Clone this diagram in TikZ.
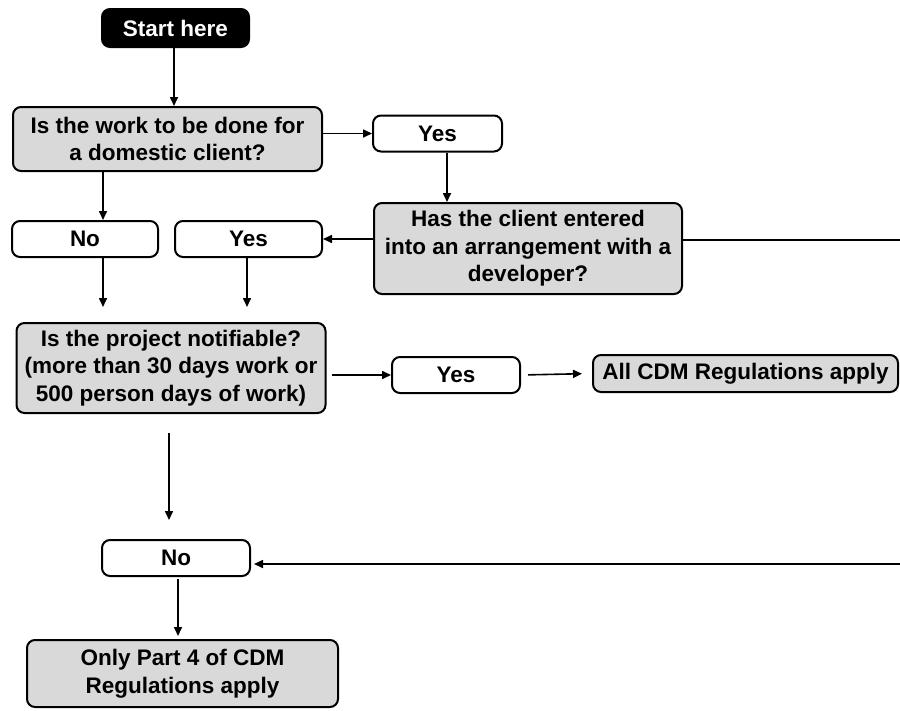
\documentclass[tikz,border=0pt]{standalone}
\usepackage{fontspec}
\setmainfont{Liberation Sans}
\usetikzlibrary{arrows.meta}
\definecolor{boxgrey}{HTML}{D9D9D9}

\begin{document}
\begin{tikzpicture}[x=1pt, y=-1pt,
    font=\fontsize{22.5}{27.5}\selectfont\bfseries,
    box/.style={draw, line width=2pt, rounded corners=8pt, align=center, inner sep=0pt},
    qbox/.style={box, fill=boxgrey},
    abox/.style={box, fill=white, minimum height=36pt},
    link/.style={line width=1.6pt, -{Triangle[length=9pt,width=8pt]}}]
\useasboundingbox (0,0) rectangle (900,710);

\node[box, fill=black, text=white, minimum width=147pt, minimum height=38pt] (start) at (175.5,28) {Start here};
\node[qbox, minimum width=309pt, minimum height=64pt] (domestic) at (167.5,139) {Is the work to be done for\\a domestic client?};
\node[abox, minimum width=129pt] (yes1) at (437.5,133.5) {Yes};
\node[qbox, minimum width=308pt, minimum height=91pt] (has) at (528,248.5) {Has the client entered\\into an arrangement with a\\developer?};
\node[abox, minimum width=146pt] (no1) at (85,239) {No};
\node[abox, minimum width=147pt] (yes2) at (248.5,239) {Yes};
\node[qbox, minimum width=309pt, minimum height=90pt] (notif) at (171,368) {Is the project notifiable?\\(more than 30 days work or\\500 person days of work)};
\node[abox, minimum width=128pt] (yes3) at (456,375) {Yes};
\node[qbox, minimum width=305pt, minimum height=37pt] (allcdm) at (745.5,373.5) {All CDM Regulations apply};
\node[abox, minimum width=148pt] (no2) at (176,558) {No};
\node[qbox, minimum width=311pt, minimum height=67pt] (part4) at (182.5,673.5) {Only Part 4 of CDM\\Regulations apply};

% loop back from the developer question
\coordinate (rtop) at (935,240);
\coordinate (rbot) at (935,564);

\draw[link] (start.south -| 174,0) -- (domestic.north -| 174,0);
\draw[link] (domestic.east |- yes1.west) -- (yes1.west);
\draw[link] ([xshift=9.5pt]yes1.south) -- ([xshift=9.5pt]yes1.south |- has.north);
\draw[link] (has.west |- yes2.east) -- (yes2.east);
\draw[link] ([xshift=18pt]no1.north |- domestic.south) -- ([xshift=18pt]no1.north);
\draw[link, shorten >=15pt] ([xshift=18pt]no1.south) -- ([xshift=18pt]no1.south |- notif.north);
\draw[link, shorten >=15pt] ([xshift=-1.5pt]yes2.south) -- ([xshift=-1.5pt]yes2.south |- notif.north);
\draw[link, shorten <=5pt] (notif.east |- yes3.west) -- (yes3.west);
\draw[link, shorten <=7pt, shorten >=10pt] (yes3.east) -- (allcdm.west);
\draw[link, shorten <=19pt, shorten >=19pt] ([xshift=-2pt]notif.south) -- ([xshift=-2pt]notif.south |- no2.north);
\draw[link, shorten <=2pt, shorten >=3pt] ([xshift=2pt]no2.south) -- ([xshift=2pt]no2.south |- part4.north);
\draw[link, shorten >=3pt] ([yshift=8.5pt]has.east) -- (rtop) -- (rbot) -- (rbot -| no2.east);
\end{tikzpicture}
\end{document}
